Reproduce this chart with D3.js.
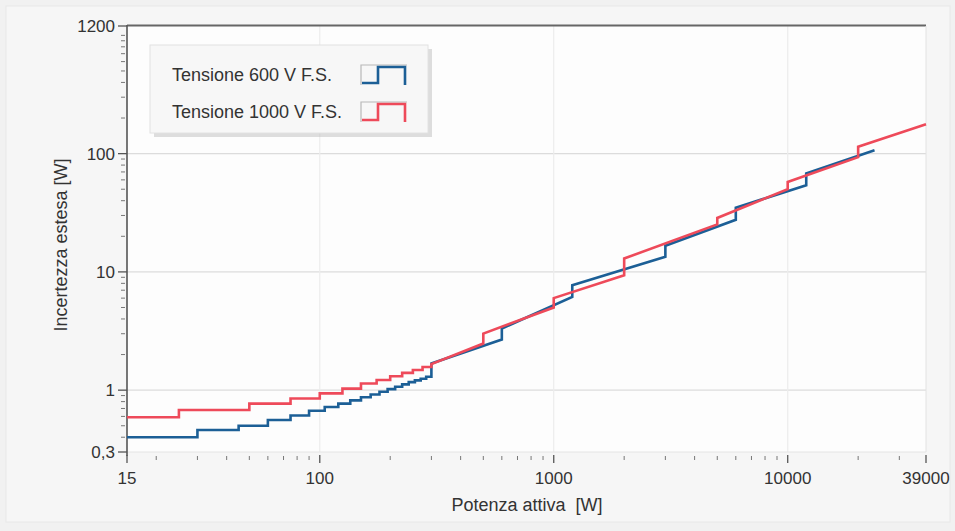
<!DOCTYPE html>
<html>
<head>
<meta charset="utf-8">
<script src="https://cdn.jsdelivr.net/npm/d3@7"></script>
<style>
  html, body { margin: 0; padding: 0; background: #f3f3f3; }
  svg { display: block; }
  text { font-family: "Liberation Sans", Arial, sans-serif; fill: #333; white-space: pre; }
</style>
</head>
<body>
<svg id="chart" width="955" height="531"></svg>
<script>
// ---------------- DATA ----------------
const seriesNames = ["Tensione 600 V F.S.", "Tensione 1000 V F.S."];
const seriesColors = ["#1c5f96", "#ee4a5a"];

// low-power part: step samples [P (W), U (W)] held until next sample
const blueSteps = [[15,0.40],[30,0.46],[45,0.50],[60,0.56],[75,0.61],[90,0.67],[105,0.72],[120,0.77],
  [135,0.82],[150,0.87],[165,0.92],[180,0.97],[195,1.02],[210,1.07],[225,1.12],[240,1.17],[255,1.21],
  [270,1.25],[285,1.30]];
// higher-power part: vertices (range changes give vertical jumps)
const blueLine = [[300,1.34],[300,1.68],[600,2.68],[600,3.32],[1200,6.15],[1200,7.72],[3000,13.4],
  [3000,16.65],[6000,27.6],[6000,34.9],[12000,54.1],[12000,67.9],[23500,106.8]];

const redSteps = [[15,0.59],[25,0.68],[50,0.77],[75,0.85],[100,0.94],[125,1.03],[150,1.14],[175,1.22],
  [200,1.31],[225,1.40],[250,1.48],[275,1.57]];
const redLine = [[300,1.66],[500,2.48],[500,3.01],[1000,5.0],[1000,6.0],[2000,9.38],[2000,12.98],
  [5000,25.2],[5000,28.6],[10000,50.0],[10000,57.6],[20000,93.3],[20000,114.4],[39000,177]];

const xDomain = [15, 39000];
const yDomain = [0.3, 1200];
const xTickValues = [15, 100, 1000, 10000, 39000];
const xTickLabels = ["15", "100", "1000", "10000", "39000"];
const yTickValues = [0.3, 1, 10, 100, 1200];
const yTickLabels = ["0,3", "1", "10", "100", "1200"];
const xGrid = [100, 1000, 10000];
const yGrid = [1, 10, 100];
const xTitle = "Potenza attiva  [W]";
const yTitle = "Incertezza estesa [W]";

// ---------------- LAYOUT ----------------
const L = 127, R = 926, T = 26, B = 452;
const svg = d3.select("#chart");

const x = d3.scaleLog().domain(xDomain).range([L, R]);
const y = d3.scaleLog().domain(yDomain).range([B, T]);

// outer panel
svg.append("rect").attr("x", 0).attr("y", 0).attr("width", 955).attr("height", 531).attr("fill", "#f1f1f1");
svg.append("rect").attr("x", 6).attr("y", 6).attr("width", 944).attr("height", 516)
  .attr("fill", "#f6f6f6").attr("stroke", "#e8e8e8");

// plot area
svg.append("rect").attr("x", L).attr("y", T).attr("width", R - L).attr("height", B - T)
  .attr("fill", "#fdfdfd");

// gridlines
svg.append("g").selectAll("line").data(yGrid).join("line")
  .attr("x1", L).attr("x2", R).attr("y1", d => y(d)).attr("y2", d => y(d))
  .attr("stroke", "#dcdcdc").attr("stroke-width", 1.2);
svg.append("g").selectAll("line").data(xGrid).join("line")
  .attr("y1", T).attr("y2", B).attr("x1", d => x(d)).attr("x2", d => x(d))
  .attr("stroke", "#ececec").attr("stroke-width", 1.2);

// borders
svg.append("line").attr("x1", L).attr("x2", R).attr("y1", T - 0.5).attr("y2", T - 0.5)
  .attr("stroke", "#666").attr("stroke-width", 2);
svg.append("line").attr("x1", R).attr("x2", R).attr("y1", T).attr("y2", B)
  .attr("stroke", "#e2e2e2").attr("stroke-width", 1);
svg.append("line").attr("x1", L).attr("x2", R).attr("y1", B).attr("y2", B)
  .attr("stroke", "#e4e4e4").attr("stroke-width", 1);

// ---------------- AXES ----------------
const minorX = x.ticks().filter(v => !xTickValues.includes(v) && v > xDomain[0] && v < xDomain[1]);
const minorY = y.ticks().filter(v => !yTickValues.some(t => Math.abs(t - v) < 1e-9) && v > yDomain[0] && v < yDomain[1]);

// y axis
const yAxis = svg.append("g");
yAxis.append("line").attr("x1", L).attr("x2", L).attr("y1", T - 1).attr("y2", B + 4)
  .attr("stroke", "#555").attr("stroke-width", 1.6);
yAxis.selectAll(".maj").data(yTickValues).join("line")
  .attr("x1", L - 9).attr("x2", L).attr("y1", d => y(d)).attr("y2", d => y(d))
  .attr("stroke", "#555").attr("stroke-width", 1.3);
yAxis.selectAll(".min").data(minorY).join("line")
  .attr("x1", L - 6).attr("x2", L - 2).attr("y1", d => y(d)).attr("y2", d => y(d))
  .attr("stroke", "#777").attr("stroke-width", 1);
yAxis.selectAll("text").data(yTickValues).join("text")
  .attr("x", L - 12).attr("y", d => y(d)).attr("dy", "0.35em")
  .attr("text-anchor", "end").attr("font-size", 17)
  .text((d, i) => yTickLabels[i]);

// x axis
const xAxis = svg.append("g");
xAxis.selectAll(".maj").data(xTickValues).join("line")
  .attr("x1", d => x(d)).attr("x2", d => x(d)).attr("y1", B + 3).attr("y2", B + 11)
  .attr("stroke", "#555").attr("stroke-width", 1.3);
xAxis.selectAll(".min").data(minorX).join("line")
  .attr("x1", d => x(d)).attr("x2", d => x(d)).attr("y1", B + 4).attr("y2", B + 8)
  .attr("stroke", "#777").attr("stroke-width", 1);
xAxis.selectAll("text").data(xTickValues).join("text")
  .attr("x", d => x(d)).attr("y", B + 32)
  .attr("text-anchor", "middle").attr("font-size", 17)
  .text((d, i) => xTickLabels[i]);

// titles
svg.append("text").attr("x", 527).attr("y", 511).attr("text-anchor", "middle")
  .attr("font-size", 18).text(xTitle);
svg.append("text").attr("transform", `translate(67,${(T + B) / 2 + 6}) rotate(-90)`)
  .attr("text-anchor", "middle").attr("font-size", 18).text(yTitle);

// ---------------- SERIES ----------------
function buildVertices(steps, line) {
  const v = [];
  steps.forEach((s, i) => {
    const next = i < steps.length - 1 ? steps[i + 1][0] : line[0][0];
    v.push([s[0], s[1]]);
    v.push([next, s[1]]);
  });
  return v.concat(line);
}
const lineGen = d3.line().x(d => x(d[0])).y(d => y(d[1])).curve(d3.curveLinear);
const series = [buildVertices(blueSteps, blueLine), buildVertices(redSteps, redLine)];

svg.append("defs").append("clipPath").attr("id", "clip")
  .append("rect").attr("x", L).attr("y", T).attr("width", R - L + 2).attr("height", B - T);

svg.append("g").attr("clip-path", "url(#clip)")
  .selectAll("path").data(series).join("path")
  .attr("d", lineGen)
  .attr("fill", "none")
  .attr("stroke", (d, i) => seriesColors[i])
  .attr("stroke-width", 2.6)
  .attr("stroke-linejoin", "miter");

// ---------------- LEGEND ----------------
const lg = svg.append("g");
lg.append("rect").attr("x", 152).attr("y", 47).attr("width", 278).attr("height", 88)
  .attr("fill", "#bdbdbd").attr("opacity", 0.5).attr("transform", "translate(2,2)");
lg.append("rect").attr("x", 150).attr("y", 45).attr("width", 278).attr("height", 88)
  .attr("fill", "#f7f7f7").attr("stroke", "#e2e2e2");
seriesNames.forEach((name, i) => {
  const cy = 75 + i * 37;
  lg.append("text").attr("x", 172).attr("y", cy + 6).attr("font-size", 18).text(name);
  const ix = 361, iy = cy - 10, iw = 46, ih = 20;
  lg.append("path")
    .attr("d", `M${ix},${iy + ih} V${iy} H${ix + iw}`)
    .attr("fill", "none").attr("stroke", "#b8b8b8").attr("stroke-width", 1.2);
  lg.append("path")
    .attr("d", `M${ix + 1},${iy + ih - 2} H${ix + 17} V${iy + 2} H${ix + iw - 2} V${iy + ih}`)
    .attr("fill", "none").attr("stroke", seriesColors[i]).attr("stroke-width", 2.6);
});
</script>
</body>
</html>
